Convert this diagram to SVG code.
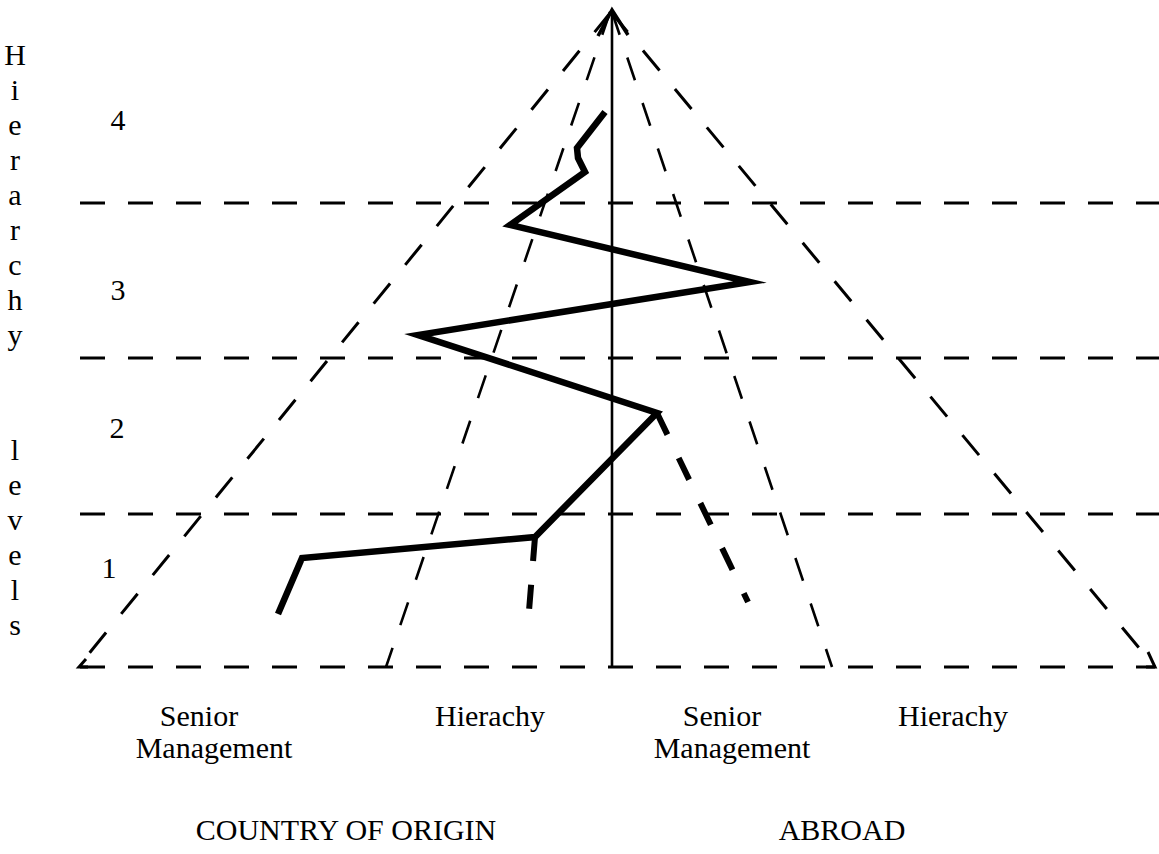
<svg xmlns="http://www.w3.org/2000/svg" width="1159" height="854" viewBox="0 0 1159 854">
<style>
  .lv { font-family: "Liberation Serif", "Times New Roman", serif; font-size: 30px; fill: #000; text-anchor: middle; }
  .hd { fill: none; stroke: #000; stroke-width: 3.2; stroke-dasharray: 25 23; }
  .od { fill: none; stroke: #000; stroke-width: 3; stroke-dasharray: 26 24; }
  .id { fill: none; stroke: #000; stroke-width: 2.6; stroke-dasharray: 24 24; }
  .thick { fill: none; stroke: #000; stroke-width: 6.5; stroke-linejoin: miter; stroke-miterlimit: 6; }
  .thickd { fill: none; stroke: #000; stroke-width: 6; }
  .axis { fill: none; stroke: #000; stroke-width: 2.6; }
</style>
<rect width="1159" height="854" fill="#fff"/>

<g id="axis-label">
  <text class="lv" x="15" y="65">H</text>
  <text class="lv" x="15" y="100">i</text>
  <text class="lv" x="15" y="135">e</text>
  <text class="lv" x="15" y="170">r</text>
  <text class="lv" x="15" y="205">a</text>
  <text class="lv" x="15" y="240">r</text>
  <text class="lv" x="15" y="275">c</text>
  <text class="lv" x="15" y="310">h</text>
  <text class="lv" x="15" y="345">y</text>
  <text class="lv" x="15" y="460">l</text>
  <text class="lv" x="15" y="495">e</text>
  <text class="lv" x="15" y="530">v</text>
  <text class="lv" x="15" y="565">e</text>
  <text class="lv" x="15" y="600">l</text>
  <text class="lv" x="15" y="635">s</text>
</g>

<g id="level-numbers">
  <text class="lv" x="118" y="130">4</text>
  <text class="lv" x="118" y="300">3</text>
  <text class="lv" x="117" y="438">2</text>
  <text class="lv" x="109" y="578">1</text>
</g>

<g id="level-lines">
  <line class="hd" x1="80" y1="203" x2="1159" y2="203"/>
  <line class="hd" x1="80" y1="358" x2="1159" y2="358"/>
  <line class="hd" x1="80" y1="514" x2="1159" y2="514"/>
  <line class="hd" x1="80" y1="667" x2="1155" y2="667"/>
</g>

<g id="pyramid-origin-senior">
  <path class="od" d="M611 12 L78 667"/>
  <path d="M86 659 L79 667 L88 667" fill="none" stroke="#000" stroke-width="3"/>
</g>
<g id="pyramid-origin-hierarchy">
  <path class="id" d="M610 12 L386 667"/>
</g>
<g id="pyramid-abroad-senior">
  <path class="id" d="M612 12 L832 667"/>
</g>
<g id="pyramid-abroad-hierarchy">
  <path class="od" d="M611 12 L1155 667"/>
  <path d="M1148 652 L1155 667 L1146 667" fill="none" stroke="#000" stroke-width="3"/>
</g>

<g id="vertical-axis">
  <path class="axis" d="M612 667 L612 10"/>
  <path d="M598 36 L612 10 L628 35" fill="none" stroke="#000" stroke-width="3.5" stroke-linejoin="miter"/>
</g>

<g id="connectors">
  <path class="thick" d="M605 112 L577 148 L578 158 L585 172 L510 225 L750 282 L418 335 L657 413 L535 537 L302 558 L278 614"/>
  <path class="thickd" d="M657 413 L748 602" stroke-dasharray="24 26"/>
  <path class="thickd" d="M535 537 L529 611" stroke-dasharray="24 24"/>
</g>

<g id="labels">
  <text class="lv" x="199" y="726">Senior</text>
  <text class="lv" x="214" y="758">Management</text>
  <text class="lv" x="490" y="726">Hierachy</text>
  <text class="lv" x="722" y="726">Senior</text>
  <text class="lv" x="732" y="758">Management</text>
  <text class="lv" x="953" y="726">Hierachy</text>
  <text class="lv" x="346" y="840">COUNTRY OF ORIGIN</text>
  <text class="lv" x="842" y="840">ABROAD</text>
</g>
</svg>
